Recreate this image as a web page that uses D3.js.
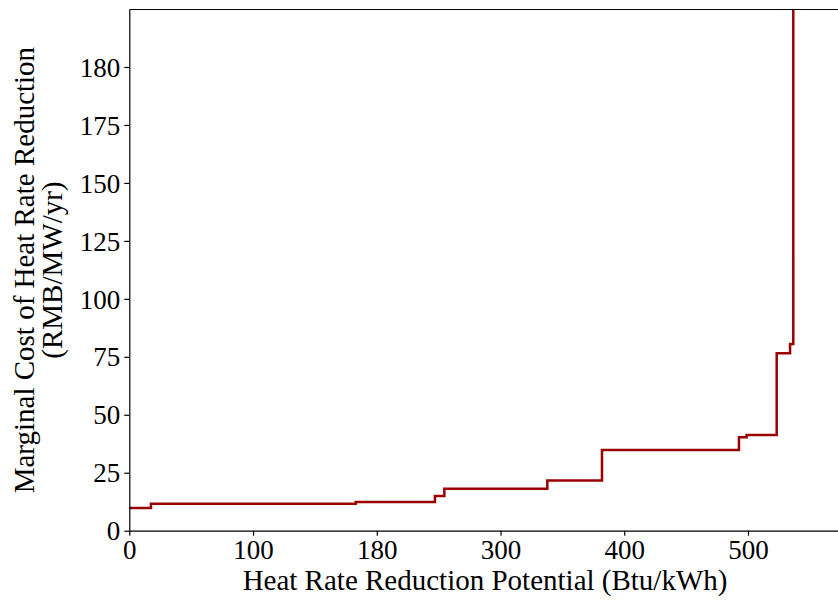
<!DOCTYPE html>
<html>
<head>
<meta charset="utf-8">
<script src="https://cdn.jsdelivr.net/npm/d3@7"></script>
<style>
  body { margin: 0; background: #fff; }
  svg { display: block; }
  text { font-family: "Liberation Serif", "Times New Roman", serif; }
</style>
</head>
<body>
<svg id="chart" width="838" height="601"></svg>
<script>
// step curve: each cost level holds from its start x to the next start x
var stepStart = [0, 17.5, 183, 247, 254.6, 337.8, 382, 492.7, 498.9, 523.2, 534, 536.6];
var stepCost = [9.8, 11.65, 12.4, 15.0, 18.1, 21.7, 34.8, 40.3, 41.3, 76.5, 80.5, 400];

var xTickValues = [0, 100, 200, 300, 400, 500];
var xTickLabels = ["0", "100", "180", "300", "400", "500"];
var yTickValues = [0, 25, 50, 75, 100, 125, 150, 175, 200];
var yTickLabels = ["0", "25", "50", "75", "100", "125", "150", "175", "180"];

var margin = {top: 9.5, left: 129.3, bottom: 70.3};
var svg = d3.select("#chart");
var width = 838, height = 601;

var xScale = d3.scaleLinear()
    .domain([0, 575])
    .range([margin.left, margin.left + 575 * 1.2374]);

var yScale = d3.scaleLinear()
    .domain([0, 224.8])
    .range([height - margin.bottom, margin.top]);

var points = stepStart.map(function (d, i) {
    return [d, stepCost[i]];
});

svg.append("clipPath").attr("id", "plotclip")
    .append("rect")
    .attr("x", xScale(0))
    .attr("y", yScale(224.8))
    .attr("width", xScale(575) - xScale(0))
    .attr("height", yScale(0) - yScale(224.8));

var line = d3.line()
    .x(function (d) { return xScale(d[0]); })
    .y(function (d) { return yScale(d[1]); })
    .curve(d3.curveStepAfter);

svg.append("path")
    .datum(points)
    .attr("clip-path", "url(#plotclip)")
    .attr("d", line)
    .attr("fill", "none")
    .attr("stroke", "#9b0000")
    .attr("stroke-width", 2.5);

var xAxis = d3.axisBottom(xScale)
    .tickValues(xTickValues)
    .tickFormat(function (d, i) { return xTickLabels[i]; })
    .tickSizeInner(5)
    .tickSizeOuter(0)
    .tickPadding(4);

var yAxis = d3.axisLeft(yScale)
    .tickValues(yTickValues)
    .tickFormat(function (d, i) { return yTickLabels[i]; })
    .tickSizeInner(5)
    .tickSizeOuter(0)
    .tickPadding(4);

var gx = svg.append("g")
    .attr("transform", "translate(0," + yScale(0) + ")")
    .call(xAxis);

var gy = svg.append("g")
    .attr("transform", "translate(" + xScale(0) + ",0)")
    .call(yAxis);

[gx, gy].forEach(function (g) {
    g.selectAll("text")
        .attr("fill", "#000")
        .style("font-size", "27px");
    g.selectAll("line, path").attr("stroke", "#000").attr("stroke-width", 1.2);
});
gy.selectAll("text").attr("dy", "0.34em");

// top spine
svg.append("line")
    .attr("x1", xScale(0)).attr("x2", xScale(575))
    .attr("y1", yScale(224.8)).attr("y2", yScale(224.8))
    .attr("stroke", "#000")
    .attr("stroke-width", 1.2);

svg.append("text")
    .attr("x", (xScale(0) + xScale(575)) / 2)
    .attr("y", 590)
    .attr("text-anchor", "middle")
    .style("font-size", "29px")
    .text("Heat Rate Reduction Potential (Btu/kWh)");

var ylab = svg.append("text")
    .attr("transform", "translate(0," + (yScale(0) + yScale(224.8)) / 2 + ") rotate(-90)")
    .attr("text-anchor", "middle")
    .style("font-size", "29px");

ylab.append("tspan").attr("x", 0).attr("y", 34).text("Marginal Cost of Heat Rate Reduction");
ylab.append("tspan").attr("x", 0).attr("y", 62).text("(RMB/MW/yr)");
</script>
</body>
</html>
